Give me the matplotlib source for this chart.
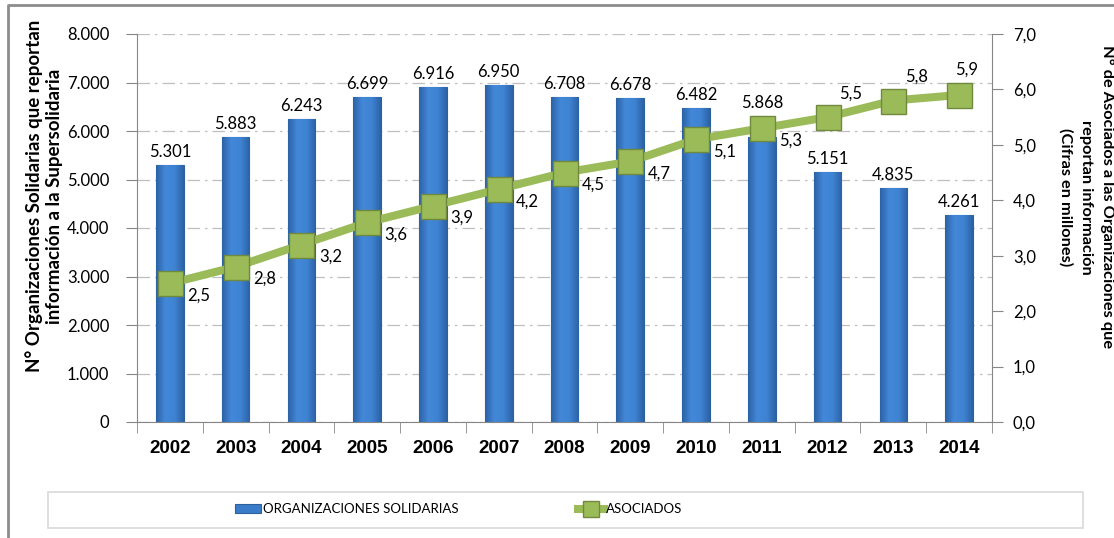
import numpy as np
import matplotlib.pyplot as plt
from matplotlib.patches import Rectangle
from matplotlib.lines import Line2D
from matplotlib.ticker import FuncFormatter
from matplotlib.colors import LinearSegmentedColormap

plt.rcParams['font.family'] = ['Lato', 'DejaVu Sans']

# datos
years = ['2002', '2003', '2004', '2005', '2006', '2007', '2008',
         '2009', '2010', '2011', '2012', '2013', '2014']
organizaciones = [5301, 5883, 6243, 6699, 6916, 6950, 6708,
                  6678, 6482, 5868, 5151, 4835, 4261]
asociados = [2.5, 2.8, 3.2, 3.6, 3.9, 4.2, 4.5, 4.7, 5.1, 5.3, 5.5, 5.8, 5.9]

W, H = 1114, 538
BLUE = '#3A7CC9'
GREEN = '#9BBB59'
GRAY = '#868686'

fig = plt.figure(figsize=(W / 100, H / 100), dpi=100)
ax = fig.add_axes([137 / W, 1 - 422 / H, (992 - 137) / W, (422 - 34) / H])

x = np.arange(len(years))
bars = ax.bar(x, organizaciones, width=0.42, color=BLUE, edgecolor='#2E6099',
              linewidth=0.8, zorder=2)

# degradado tipo Excel dentro de cada barra
cmap = LinearSegmentedColormap.from_list('barra', ['#2C62A6', '#4388D8', '#3F84D3', '#2C62A6'])
grad = np.linspace(0, 1, 64).reshape(1, -1)
for b in bars:
    im = ax.imshow(grad, extent=[b.get_x(), b.get_x() + b.get_width(), 0, b.get_height()],
                   aspect='auto', cmap=cmap, zorder=2.1)
    im.set_clip_path(b)

ax.set_xlim(-0.5, len(years) - 0.5)
ax.set_ylim(0, 8000)
ax.set_yticks(range(0, 8001, 1000))
ax.yaxis.set_major_formatter(FuncFormatter(lambda v, p: f'{int(v):,}'.replace(',', '.')))
ax.grid(axis='y', color='#BFBFBF', linestyle=(0, (10, 4, 2, 4)), linewidth=0.9)
ax.set_axisbelow(True)

ax.set_xticks(x)
ax.set_xticklabels(years, fontfamily='Liberation Sans', fontweight='bold', fontsize=13.5)
ax.set_xticks(np.arange(-0.5, len(years), 1), minor=True)
ax.tick_params(axis='x', which='major', length=0, pad=13)
ax.tick_params(axis='x', which='minor', length=8, color=GRAY)
ax.tick_params(axis='y', length=8, color=GRAY, labelsize=12, pad=12)

for s in ['top', 'right']:
    ax.spines[s].set_visible(False)
for s in ['left', 'bottom']:
    ax.spines[s].set_color(GRAY)

# eje secundario
ax2 = ax.twinx()
ax2.plot(x, asociados, color=GREEN, lw=5.8, marker='s', ms=18,
         mfc=GREEN, mec='#71893F', mew=1, zorder=3)
ax2.set_ylim(0, 7)
ax2.set_yticks(np.arange(0, 7.01, 1))
ax2.yaxis.set_major_formatter(FuncFormatter(lambda v, p: f'{v:.1f}'.replace('.', ',')))
ax2.tick_params(axis='y', length=8, color=GRAY, labelsize=12, pad=7)
for s in ['top', 'left', 'bottom']:
    ax2.spines[s].set_visible(False)
ax2.spines['right'].set_color(GRAY)

# etiquetas de las barras (encima de la linea)
for i, (xi, v) in enumerate(zip(x, organizaciones)):
    dy = 26 if i == 9 else 5
    ax2.annotate(f'{v:,}'.replace(',', '.'), (xi, v), xycoords=ax.transData,
                 xytext=(0, dy), textcoords='offset pixels',
                 ha='center', va='bottom', fontsize=12, zorder=5)

for i, (xi, v) in enumerate(zip(x, asociados)):
    if i < 10:
        off = (29, -12)
    elif i < 12:
        off = (23, 24)
    else:
        off = (7, 25)
    ax2.annotate(f'{v:.1f}'.replace('.', ','), (xi, v), xytext=off,
                 textcoords='offset pixels', ha='center', va='center', fontsize=12)

# titulos de ejes
fig.text(44 / W, 1 - 196 / H,
         'N° Organizaciones Solidarias que reportan\ninformación a la Supersolidaria',
         rotation=90, ha='center', va='center', fontsize=13.5, fontweight='bold',
         multialignment='center', linespacing=1.2)
fig.text(1086 / W, 1 - 197 / H,
         'N° de Asociados a las Organizaciones que\nreportan información\n(Cifras en millones)',
         rotation=-90, ha='center', va='center', fontsize=11.8, fontweight='bold',
         multialignment='center', linespacing=1.6)

# leyenda
handles = [Rectangle((0, 0), 1, 1, facecolor=BLUE, edgecolor='#2E6099', lw=0.8),
           Line2D([], [], color=GREEN, lw=5.8, marker='s', ms=11,
                  mfc=GREEN, mec='#71893F', mew=1)]
fig.legend(handles, ['ORGANIZACIONES SOLIDARIAS', 'ASOCIADOS'], ncol=2,
           loc='center left', bbox_to_anchor=(235 / W, 1 - 509 / H),
           frameon=False, borderpad=0, borderaxespad=0, handlelength=2.0,
           handleheight=0.6, handletextpad=0.15, columnspacing=9.0,
           prop={'size': 9.5})
fig.add_artist(Rectangle((48 / W, 1 - 528 / H), (1083 - 48) / W, 36 / H,
                         transform=fig.transFigure, fill=False,
                         edgecolor='#D9D9D9', lw=1.2))

# marco exterior
fig.add_artist(Line2D([8 / W, 8 / W, 1], [0, 1 - 5 / H, 1 - 5 / H],
                      transform=fig.transFigure, color='#8C8C8C', lw=2))

fig.savefig('out.png', dpi=100)
